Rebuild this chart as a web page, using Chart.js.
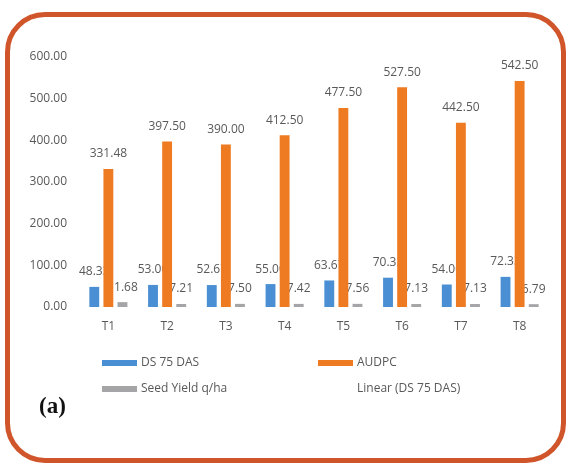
<!DOCTYPE html>
<html>
<head>
<meta charset="utf-8">
<script src="https://cdn.jsdelivr.net/npm/chart.js@4/dist/chart.umd.min.js"></script>
<style>
  html, body { margin: 0; padding: 0; background: #ffffff; }
  #wrap { position: relative; width: 568px; height: 465px; overflow: hidden; }
  #c { position: absolute; left: 0; top: 0; }
  #frame {
    position: absolute; left: 5px; top: 12px; width: 551px; height: 441px;
    border: 5px solid #d0552a; border-radius: 40px; pointer-events: none;
  }
  #tag {
    position: absolute; left: 39px; top: 393px;
    font-family: "Liberation Serif", "DejaVu Serif", serif; font-weight: bold;
    font-size: 23px; color: #111;
  }
</style>
</head>
<body>
<div id="wrap">
  <canvas id="c" width="568" height="465"></canvas>
  <div id="frame"></div>
  <div id="tag">(a)</div>
</div>
<script>
const categories = ["T1", "T2", "T3", "T4", "T5", "T6", "T7", "T8"];
const ds75das = [48.33, 53.00, 52.67, 55.00, 63.67, 70.33, 54.00, 72.33];
const audpc = [331.48, 397.50, 390.00, 412.50, 477.50, 527.50, 442.50, 542.50];
const seedYield = [11.68, 7.21, 7.50, 7.42, 7.56, 7.13, 7.13, 6.79];
const seriesNames = ["DS 75 DAS", "AUDPC", "Seed Yield q/ha", "Linear (DS 75 DAS)"];
const yTicks = [0, 100, 200, 300, 400, 500, 600];

const TXT = "#595959";
const FONT = "Open Sans";

const labelPlugin = {
  id: "barLabels",
  beforeDatasetsDraw(chart) {
    const ctx = chart.ctx;
    ctx.save();
    ctx.font = "12px '" + FONT + "'";
    ctx.fillStyle = TXT;
    ctx.textAlign = "center";
    ctx.textBaseline = "middle";
    chart.data.datasets.forEach((ds, di) => {
      if (ds.type === "line") return;
      const meta = chart.getDatasetMeta(di);
      meta.data.forEach((el, i) => {
        const v = ds.data[i];
        if (v == null) return;
        ctx.fillText(v.toFixed(2), el.x, el.y - 15);
      });
    });
    ctx.restore();
  }
};

const legendPlugin = {
  id: "gridLegend",
  afterDraw(chart) {
    const ctx = chart.ctx;
    ctx.save();
    ctx.font = "12px '" + FONT + "'";
    ctx.textBaseline = "middle";
    ctx.textAlign = "left";
    const cols = [102, 318];
    const rows = [363, 389];
    chart.data.datasets.forEach((ds, i) => {
      const x = cols[i % 2], y = rows[Math.floor(i / 2)];
      if (ds.type !== "line") {
        ctx.fillStyle = ds.backgroundColor;
        ctx.fillRect(x, y - 3, 35, 6);
      }
      ctx.fillStyle = TXT;
      ctx.fillText(ds.label, x + 39, y);
    });
    ctx.restore();
  }
};

new Chart(document.getElementById("c"), {
  type: "bar",
  data: {
    labels: categories,
    datasets: [
      { label: seriesNames[0], data: ds75das, backgroundColor: "#4a8fd3", categoryPercentage: 0.72, barPercentage: 0.7 },
      { label: seriesNames[1], data: audpc, backgroundColor: "#ee7a22", categoryPercentage: 0.72, barPercentage: 0.7 },
      { label: seriesNames[2], data: seedYield, backgroundColor: "#a5a5a8", categoryPercentage: 0.72, barPercentage: 0.7 },
      { type: "line", label: seriesNames[3], data: [], borderColor: "rgba(0,0,0,0)", pointRadius: 0 }
    ]
  },
  plugins: [labelPlugin, legendPlugin],
  options: {
    responsive: false,
    animation: false,
    layout: { padding: { top: 57, right: 19, bottom: 118, left: 0 } },
    plugins: { legend: { display: false }, tooltip: { enabled: false } },
    scales: {
      x: {
        grid: { display: false, drawTicks: false },
        border: { display: false },
        ticks: { color: TXT, font: { family: FONT, size: 12 }, padding: 12 },
        afterFit(s) { s.height = 40; }
      },
      y: {
        min: 0, max: 600,
        grid: { display: false, drawTicks: false },
        border: { display: false },
        afterBuildTicks(s) { s.ticks = yTicks.map(v => ({ value: v })); },
        ticks: {
          color: TXT, font: { family: FONT, size: 12 }, padding: 12,
          callback: v => v.toFixed(2)
        },
        afterFit(s) { s.width = 79; }
      }
    }
  }
});
</script>
</body>
</html>
